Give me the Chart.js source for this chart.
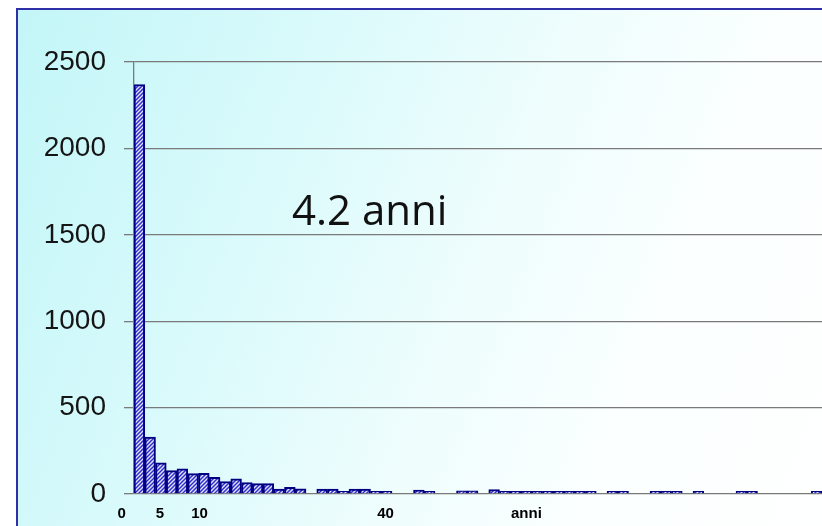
<!DOCTYPE html>
<html>
<head>
<meta charset="utf-8">
<script src="https://cdn.jsdelivr.net/npm/chart.js@4.4.0/dist/chart.umd.min.js"></script>
<style>
  html, body { margin: 0; padding: 0; width: 822px; height: 526px; overflow: hidden; background: #ffffff; }
  #frame {
    position: absolute; left: 16px; top: 8px; width: 840px; height: 560px;
    border-left: 2px solid #2f2fa8; border-top: 2px solid #2f2fa8;
    background: linear-gradient(112deg, #c3f6f8 0%, #d9fafb 28%, #eefdfd 52%, #fbffff 72%, #ffffff 100%);
  }
  #wrap { position: absolute; left: 0; top: 0; width: 822px; height: 526px; }
</style>
</head>
<body>
<div id="frame"></div>
<div id="wrap"><canvas id="chart" width="822" height="526"></canvas></div>
<script>
// Yearly bins of the histogram (one bar per year)
const bins = Array.from({ length: 64 }, (_, i) => String(i + 1));

// Number of cases in each bin
const counts = [
  2370, 330, 180, 135, 145, 118, 120, 97, 72, 88,
  66, 60, 60, 28, 38, 30, 0, 28, 28, 15,
  28, 28, 15, 15, 0, 0, 22, 15, 0, 0,
  18, 18, 0, 25, 15, 15, 15, 15, 15, 15,
  15, 15, 15, 0, 15, 15, 0, 0, 15, 15,
  15, 0, 15, 0, 0, 0, 15, 15, 0, 0,
  0, 0, 0, 15
];

// Axis tick labels
const yTicks = [0, 500, 1000, 1500, 2000, 2500];
const xTickLabels = ['0', '5', '10', '40', 'anni'];
const xTickAt = [-1.64, 1.92, 5.6, 22.9, 36.0];

const meanLabel = '4.2 anni';

// Diagonal hatch used to fill the bars
function hatchPattern() {
  const t = document.createElement('canvas');
  t.width = 4; t.height = 4;
  const g = t.getContext('2d');
  g.fillStyle = '#e4e4ff';
  g.fillRect(0, 0, 4, 4);
  g.strokeStyle = '#2f2fcc';
  g.lineWidth = 1.5;
  g.beginPath();
  g.moveTo(0, 4); g.lineTo(4, 0);
  g.moveTo(-1, 1); g.lineTo(1, -1);
  g.moveTo(3, 5); g.lineTo(5, 3);
  g.stroke();
  return g.createPattern(t, 'repeat');
}

// Writes the mean duration inside the plot
const meanText = {
  id: 'meanText',
  afterDatasetsDraw(chart) {
    const { ctx, chartArea } = chart;
    ctx.save();
    ctx.fillStyle = '#111111';
    ctx.font = '42px "Comic Sans MS", "Open Sans", sans-serif';
    ctx.textAlign = 'left';
    ctx.textBaseline = 'alphabetic';
    ctx.fillText(meanLabel, chartArea.left + 158, chartArea.top + 163);
    ctx.restore();
  }
};

new Chart(document.getElementById('chart'), {
  type: 'bar',
  data: {
    labels: bins,
    datasets: [{
      data: counts,
      xAxisID: 'x',
      yAxisID: 'y',
      backgroundColor: hatchPattern(),
      borderColor: '#000080',
      borderWidth: 2,
      barPercentage: 1,
      categoryPercentage: 1
    }]
  },
  options: {
    responsive: false,
    animation: false,
    devicePixelRatio: 1,
    layout: { padding: { top: 62, right: 0, left: 0, bottom: 0 } },
    plugins: { legend: { display: false }, tooltip: { enabled: false } },
    scales: {
      x: { type: 'category', display: false, offset: true },
      xl: {
        type: 'linear', position: 'bottom', min: -0.5, max: 63.5, offset: false,
        grid: { display: false, drawTicks: false, offset: false },
        border: { display: false },
        afterBuildTicks: s => { s.ticks = xTickAt.map(v => ({ value: v })); },
        afterFit: s => { s.height = 32; s.paddingLeft = 0; s.paddingRight = 0; },
        ticks: {
          autoSkip: false, maxRotation: 0, minRotation: 0, padding: 11,
          color: '#000000',
          font: { family: '"Liberation Sans", Arial, sans-serif', size: 15, weight: 'bold' },
          callback: (v, i) => xTickLabels[i]
        }
      },
      y: {
        min: 0, max: 2500,
        afterBuildTicks: s => { s.ticks = yTicks.map(v => ({ value: v })); },
        afterFit: s => { s.width = 134; s.paddingTop = 0; s.paddingBottom = 0; },
        grid: { color: '#7a7a7a', lineWidth: 1.3, tickLength: 10 },
        border: { color: '#7a7a7a', width: 1.3 },
        ticks: {
          padding: 18, color: '#151515',
          font: { family: '"Liberation Sans", Arial, sans-serif', size: 28 },
          callback: v => String(v)
        }
      }
    }
  },
  plugins: [meanText]
});
</script>
</body>
</html>
